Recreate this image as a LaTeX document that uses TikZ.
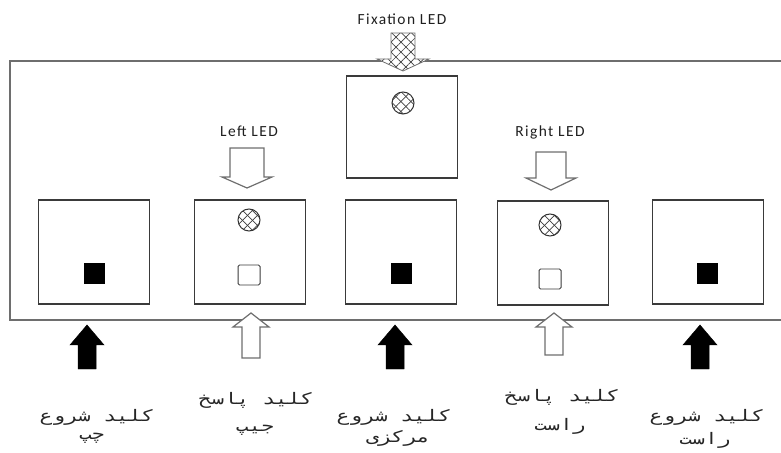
\documentclass[tikz,border=0pt]{standalone}
\usepackage{fontspec}
\TeXXeTstate=1
\setmainfont{Carlito}
\newfontfamily\ledfont[LetterSpace=9]{Carlito}
\newfontfamily\arabicfont[Script=Arabic,FakeStretch=1.33]{DejaVu Sans Mono}
\usetikzlibrary{patterns.meta}
\definecolor{framegray}{HTML}{6E6E6E}
\definecolor{boxgray}{HTML}{3A3A3A}
\definecolor{arrgray}{HTML}{6E6E6E}
\tikzset{
  stationbox/.style={draw=boxgray,line width=1.2pt,minimum width=111bp,minimum height=104bp,inner sep=0pt},
  keyfilled/.style={fill=black,minimum size=21bp,inner sep=0pt},
  keyhollow/.style={draw=boxgray,line width=1pt,rounded corners=1.5pt,minimum width=22bp,minimum height=20bp,inner sep=0pt},
  ledlabel/.style={font=\ledfont\fontsize{15.5}{18}\selectfont,text=black!88},
  keylabel/.style={font=\arabicfont\fontsize{16}{20}\selectfont,text=black!85,inner sep=0pt},
  hatchA/.style={pattern={Lines[angle=45,distance=7bp,line width=0.7bp]},pattern color=black!75},
  hatchB/.style={pattern={Lines[angle=-45,distance=7bp,line width=0.7bp]},pattern color=black!75},
  hollowarrow/.style={draw=arrgray,line width=1.2pt,fill=white,line join=miter},
  solidarrow/.style={fill=black,draw=black,line width=0.5pt}
}
\newcommand{\ledcircle}[1]{%
  \fill[white] (#1) circle (11bp);
  \fill[hatchA] (#1) circle (11bp);
  \fill[hatchB] (#1) circle (11bp);
  \draw[black!80,line width=1pt] (#1) circle (11bp);
}
\begin{document}
\begin{tikzpicture}[x=1bp,y=-1bp]
\useasboundingbox (0,0) rectangle (781,453);
% frame
\draw[framegray,line width=1.6pt] (785,61) -- (10,61) -- (10,320) -- (785,320);
% station boxes
\node[stationbox] (b1) at (94,252) {};
\node[stationbox] (b2) at (250,252) {};
\node[stationbox] (b3) at (401,252) {};
\node[stationbox] (b4) at (553,253) {};
\node[stationbox] (b5) at (708,252) {};
\node[stationbox,minimum height=102bp] (bt) at (402,127) {};
% keys
\node[keyfilled] (k1) at (94,274) {};
\node[keyhollow] (k2) at (249,275) {};
\node[keyfilled] (k3) at (401,274) {};
\node[keyhollow] (k4) at (550,279) {};
\node[keyfilled] (k5) at (707,274) {};
% LEDs
\coordinate (l2) at (249,220);
\coordinate (l4) at (550,225);
\coordinate (lt) at (403,103);
\ledcircle{l2}
\ledcircle{l4}
\ledcircle{lt}
% LED labels
\node[ledlabel] (tf) at (402,19) {Fixation LED};
\node[ledlabel] (tl) at (249,131) {Left LED};
\node[ledlabel] (tr) at (550,132) {Right LED};
% fixation arrow (hatched)
\coordinate (fa) at (403,0);
\begin{scope}[shift={(fa)}]
\def\fixpath{(-12,33) -- (12,33) -- (12,59) -- (26,59) -- (0,71) -- (-26,59) -- (-12,59) -- cycle}
\fill[white] \fixpath;
\fill[hatchA] \fixpath;
\fill[hatchB] \fixpath;
\draw[arrgray,line width=0.8pt] \fixpath;
\end{scope}
% Left / Right LED hollow down arrows
\coordinate (la) at (247,0);
\draw[hollowarrow,shift={(la)}] (-17,148) -- (17,148) -- (17,177) -- (25,177) -- (0,188) -- (-25,177) -- (-17,177) -- cycle;
\coordinate (ra) at (551,0);
\draw[hollowarrow,shift={(ra)}] (-15,152) -- (15,152) -- (15,178) -- (25,178) -- (0,190) -- (-25,178) -- (-15,178) -- cycle;
% bottom black up arrows
\foreach \n/\cx in {s1/87,s3/395,s5/700}{
  \coordinate (\n) at (\cx,0);
  \fill[solidarrow,shift={(\n)}] (0,325) -- (17,345) -- (9,345) -- (9,369) -- (-9,369) -- (-9,345) -- (-17,345) -- cycle;
}
% bottom hollow up arrows
\foreach \n/\cx/\by in {h2/251/358,h4/554/355}{
  \coordinate (\n) at (\cx,0);
  \draw[hollowarrow,shift={(\n)}] (0,313) -- (18,327) -- (9,327) -- (9,\by) -- (-9,\by) -- (-9,327) -- (-18,327) -- cycle;
}
% key labels
\node[keylabel] (t1a) at (97,417) {\beginR کلید شروع\endR};
\node[keylabel] (t1b) at (92,438) {\beginR چپ\endR};
\node[keylabel] (t2a) at (256,400) {\beginR کلید پاسخ\endR};
\node[keylabel] (t2b) at (255,430) {\beginR جیپ\endR};
\node[keylabel] (t3a) at (394,417) {\beginR کلید شروع\endR};
\node[keylabel] (t3b) at (398,438) {\beginR مرکزی\endR};
\node[keylabel] (t4a) at (562,397) {\beginR کلید پاسخ\endR};
\node[keylabel] (t4b) at (560,426) {\beginR راست\endR};
\node[keylabel] (t5a) at (707,417) {\beginR کلید شروع\endR};
\node[keylabel] (t5b) at (705,440) {\beginR راست\endR};
\end{tikzpicture}
\end{document}
